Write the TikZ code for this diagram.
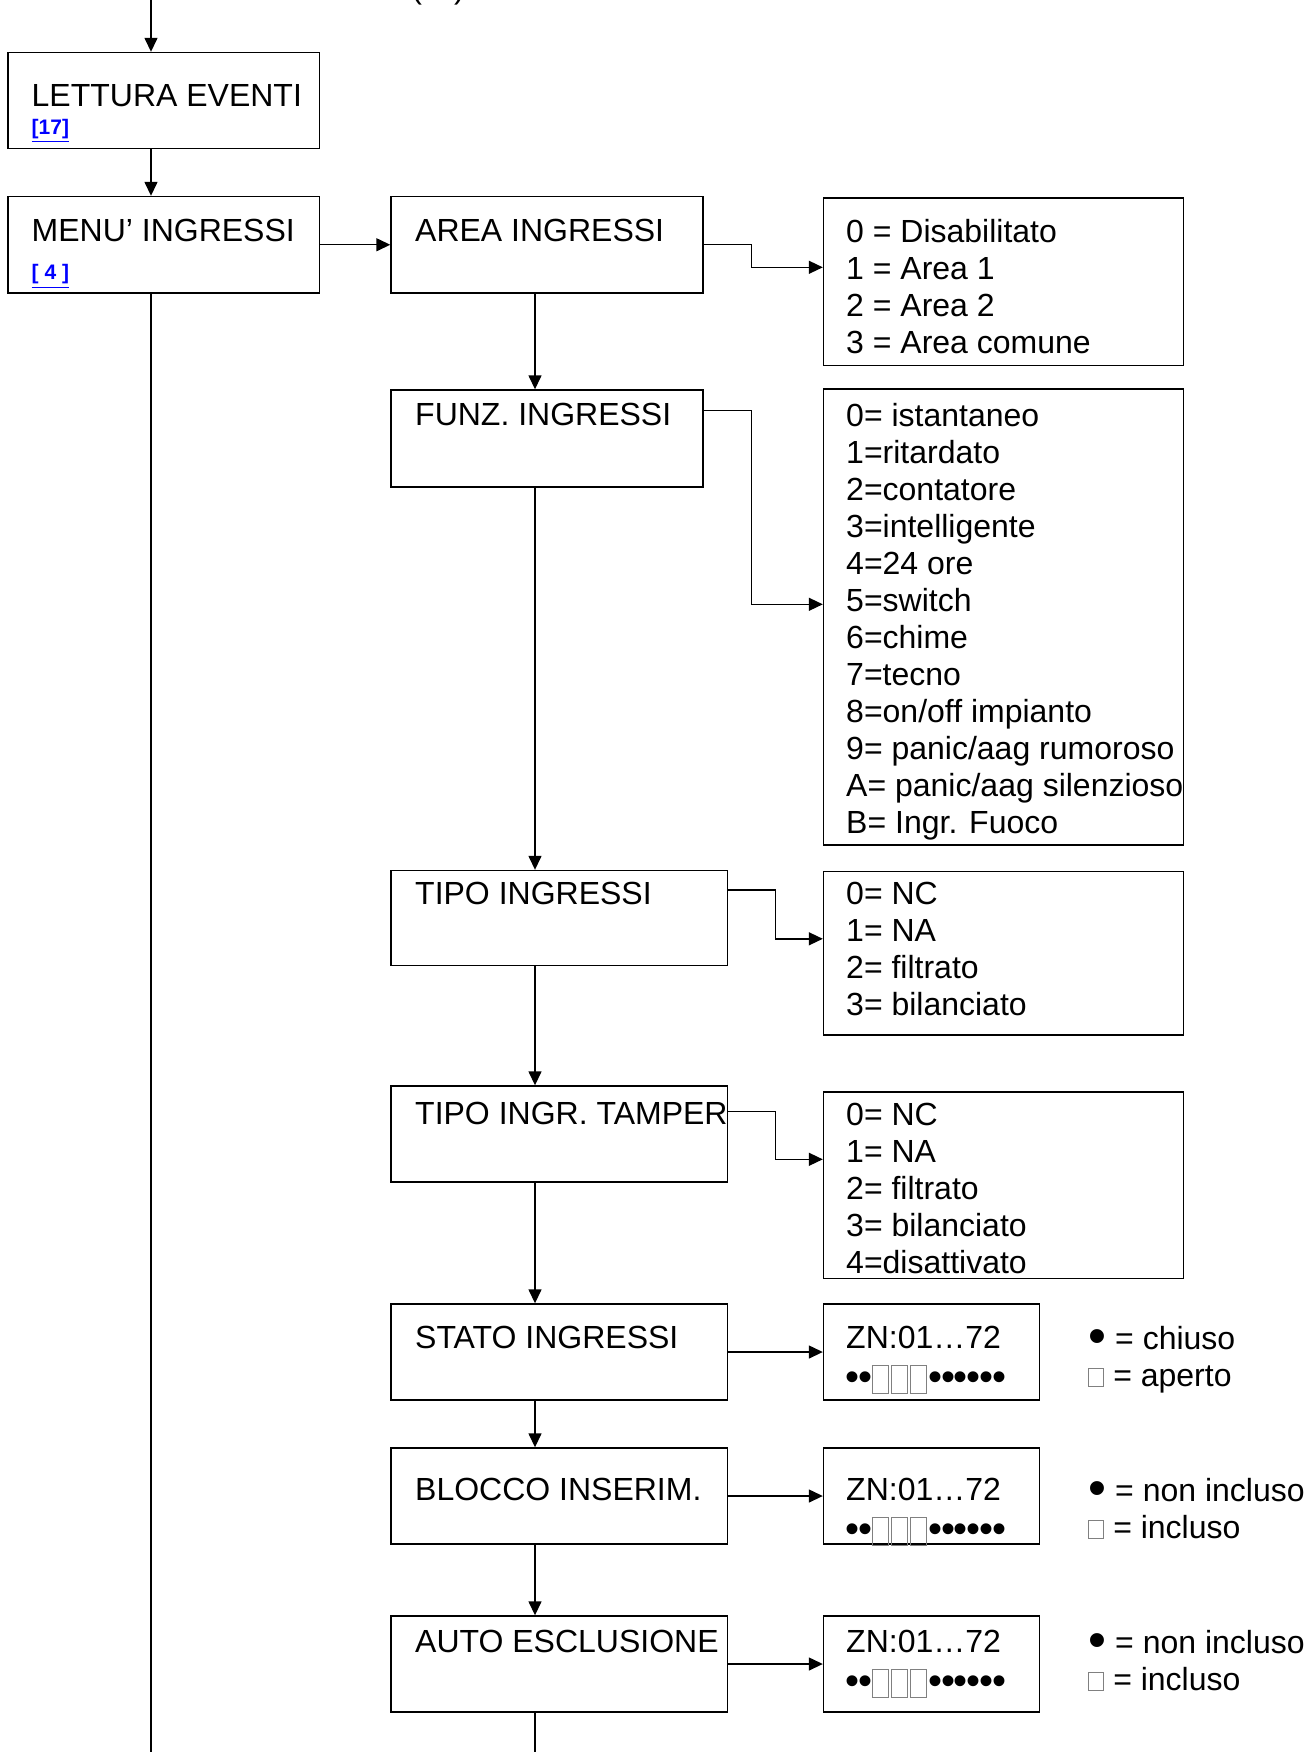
\documentclass[tikz,border=0pt]{standalone}
\usepackage{fontspec}
\usepackage{graphicx}
\setmainfont{Liberation Sans}
\usetikzlibrary{fit,calc,arrows.meta}
\definecolor{linkblue}{RGB}{0,0,255}
\newcommand{\zsq}{{\color{gray}\fboxsep=0pt\fboxrule=0.5pt\raisebox{-4pt}{\fbox{\rule{0pt}{13.5pt}\hspace{7.5pt}}}}\kern1pt}
\newcommand{\zdot}{\makebox[6.4pt]{\raisebox{-2.5pt}{\scalebox{1.25}{•}}}}
\newcommand{\zonebar}{\zdot\zdot\zsq\zsq\zsq\zdot\zdot\zdot\zdot\zdot\zdot}
\newcommand{\legdot}{\raisebox{-2pt}{\scalebox{1.6}{•}}}
\newcommand{\legsq}{{\color{gray}\fboxsep=0pt\fboxrule=0.5pt\fbox{\rule{0pt}{8.5pt}\hspace{7pt}}}}
\begin{document}
\begin{tikzpicture}[x=0.5pt,y=-0.5pt,
	every node/.style={font=\fontsize{16}{18.5}\selectfont},
	box/.style={draw,line width=0.7pt,inner sep=0pt},
	txt/.style={anchor=base west,inner sep=0pt},
	ref/.style={anchor=base west,inner sep=0pt,text=linkblue,font=\fontsize{10.5}{12}\selectfont\bfseries},
	arr/.style={line width=0.7pt,-{Triangle[length=7pt,width=6.5pt]}},
	ln/.style={line width=0.7pt}]
	\useasboundingbox (0,0) rectangle (1313,1752);
	\coordinate (spine) at (151,0);
	\coordinate (col) at (535,0);
	\coordinate (bottom) at (0,1752);
	\node[txt] (cont) at (411,-2) {(…)};
	% left column
	\node[box,fit={(8,52.5) (319.5,148.5)}] (lettura) {};
	\node[box,fit={(8,196.5) (319.5,293)}] (menu) {};
	\node[txt] (letturaT) at ($(lettura.north west)+(24,55)$) {LETTURA EVENTI};
	\node[txt,ref] (letturaR) at ($(lettura.north west)+(24,82.5)$) {\underline{[17]}};
	\node[txt] (menuT) at ($(menu.north west)+(24,46)$) {MENU’ INGRESSI};
	\node[txt,ref] (menuR) at ($(menu.north west)+(24,84)$) {\underline{[ 4 ]}};
	\draw[arr] (spine) -- (lettura.north -| spine);
	\draw[arr] (lettura.south -| spine) -- (menu.north -| spine);
	\draw[ln] (menu.south -| spine) -- (bottom -| spine);
	% right column
	\node[box,fit={(391,196.5) (703,293)}] (area) {};
	\node[box,fit={(391,390) (703,487)}] (funz) {};
	\node[box,fit={(391,870.5) (727.5,965.5)}] (tipo) {};
	\node[box,fit={(391,1086) (727.5,1182)}] (tamper) {};
	\node[box,fit={(391,1304) (727.5,1400)}] (stato) {};
	\node[box,fit={(391,1448) (727.5,1544)}] (blocco) {};
	\node[box,fit={(391,1616) (727.5,1712)}] (auto) {};
	\node[txt] (areaT) at ($(area.north west)+(24.5,46)$) {AREA INGRESSI};
	\node[txt] (funzT) at ($(funz.north west)+(24.5,36)$) {FUNZ. INGRESSI};
	\node[txt] (tipoT) at ($(tipo.north west)+(24.5,35)$) {TIPO INGRESSI};
	\node[txt] (tamperT) at ($(tamper.north west)+(24.5,39.5)$) {TIPO INGR. TAMPER};
	\node[txt] (statoT) at ($(stato.north west)+(24.5,45)$) {STATO INGRESSI};
	\node[txt] (bloccoT) at ($(blocco.north west)+(24.5,53)$) {BLOCCO INSERIM.};
	\node[txt] (autoT) at ($(auto.north west)+(24.5,37)$) {AUTO ESCLUSIONE};
	\draw[arr] (menu.east) -- (area.west);
	\draw[arr] (area.south -| col) -- (funz.north -| col);
	\draw[arr] (funz.south -| col) -- (tipo.north -| col);
	\draw[arr] (tipo.south -| col) -- (tamper.north -| col);
	\draw[arr] (tamper.south -| col) -- (stato.north -| col);
	\draw[arr] (stato.south -| col) -- (blocco.north -| col);
	\draw[arr] (blocco.south -| col) -- (auto.north -| col);
	\draw[ln] (auto.south -| col) -- (bottom -| col);
	% option lists
	\node[box,fit={(823.5,198) (1183.5,365.5)}] (areaopt) {};
	\node[box,fit={(823.5,389) (1183.5,845)}] (funzopt) {};
	\node[box,fit={(823.5,871.5) (1183.5,1035)}] (tipoopt) {};
	\node[box,fit={(823.5,1092) (1183.5,1278.5)}] (tamperopt) {};
	\foreach \t [count=\i from 0] in {0 = Disabilitato,1 = Area 1,2 = Area 2,3 = Area comune}
		\node[txt] (areaopt-\i) at ($(areaopt.north west)+(23,{45+37*\i})$) {\t};
	\foreach \t [count=\i from 0] in {0= istantaneo,1=ritardato,2=contatore,3=intelligente,4=24 ore,5=switch,6=chime,7=tecno,8=on/off impianto,9= panic/aag rumoroso,A= panic/aag silenzioso,B= Ingr. Fuoco}
		\node[txt] (funzopt-\i) at ($(funzopt.north west)+(23,{38+37*\i})$) {\t};
	\foreach \t [count=\i from 0] in {0= NC,1= NA,2= filtrato,3= bilanciato}
		\node[txt] (tipoopt-\i) at ($(tipoopt.north west)+(23,{34+37*\i})$) {\t};
	\foreach \t [count=\i from 0] in {0= NC,1= NA,2= filtrato,3= bilanciato,4=disattivato}
		\node[txt] (tamperopt-\i) at ($(tamperopt.north west)+(23,{34+37*\i})$) {\t};
	\draw[arr] (area.east) -- ++(48,0) |- ($(areaopt.north west)+(0,70)$);
	\draw[arr] ($(funz.north east)+(0,21)$) -- ++(48,0) |- ($(funzopt.north west)+(0,216)$);
	\draw[arr] ($(tipo.north east)+(0,20)$) -- ++(47,0) |- ($(tipoopt.north west)+(0,68)$);
	\draw[arr] ($(tamper.north east)+(0,26)$) -- ++(47,0) |- ($(tamperopt.north west)+(0,68)$);
	% zone displays
	\node[box,fit={(823.5,1304) (1039.5,1400)}] (statozn) {};
	\node[box,fit={(823.5,1448) (1039.5,1544)}] (blocczn) {};
	\node[box,fit={(823.5,1616) (1039.5,1712)}] (autozn) {};
	\node[txt] (statoznT) at ($(statozn.north west)+(23,45)$) {ZN:01…72};
	\node[txt] (statoznB) at ($(statozn.north west)+(23,82)$) {\zonebar};
	\node[txt] (blocoznT) at ($(blocczn.north west)+(23,53)$) {ZN:01…72};
	\node[txt] (blocoznB) at ($(blocczn.north west)+(23,90)$) {\zonebar};
	\node[txt] (autoznT) at ($(autozn.north west)+(23,37)$) {ZN:01…72};
	\node[txt] (autoznB) at ($(autozn.north west)+(23,74)$) {\zonebar};
	\draw[arr] (stato.east) -- (statozn.west);
	\draw[arr] (blocco.east) -- (blocczn.west);
	\draw[arr] (auto.east) -- (autozn.west);
	% legends
	\node[txt] (statoL1) at (1088,1349) {\legdot{} = chiuso};
	\node[txt] (statoL2) at (1088,1386) {\legsq{} = aperto};
	\node[txt] (bloccoL1) at (1088,1501) {\legdot{} = non incluso};
	\node[txt] (bloccoL2) at (1088,1538) {\legsq{} = incluso};
	\node[txt] (autoL1) at (1088,1653) {\legdot{} = non incluso};
	\node[txt] (autoL2) at (1088,1690) {\legsq{} = incluso};
\end{tikzpicture}
\end{document}
